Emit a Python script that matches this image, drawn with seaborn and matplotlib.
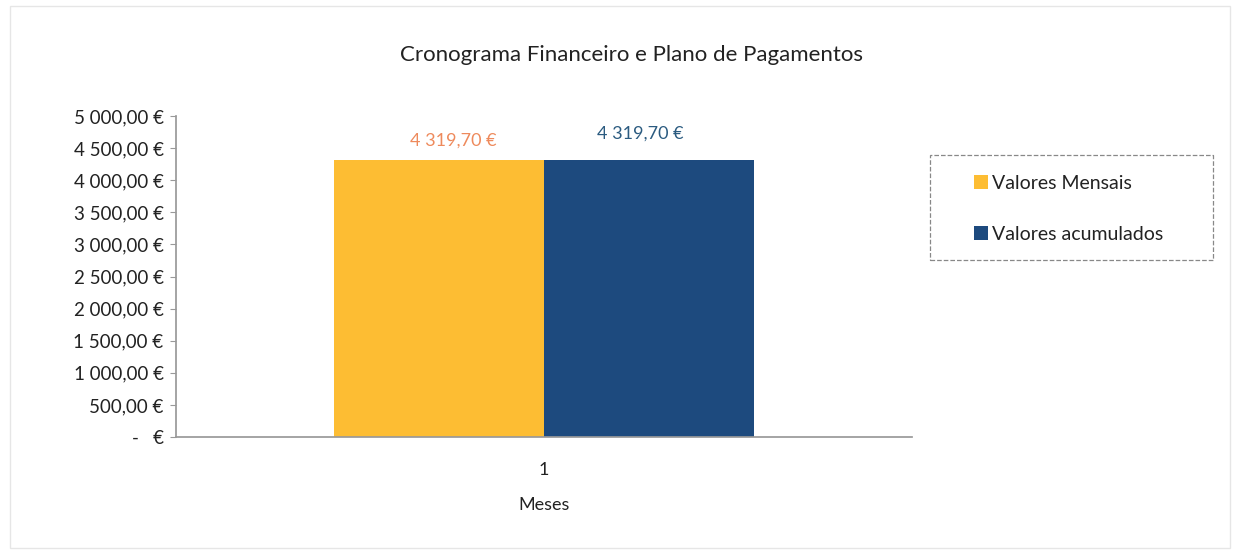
import matplotlib
matplotlib.use("Agg")
import matplotlib.pyplot as plt
import seaborn as sns
import pandas as pd
from matplotlib.ticker import FuncFormatter, MultipleLocator
from matplotlib.patches import Rectangle

meses = ["1"]
series = ["Valores Mensais", "Valores acumulados"]
valores = [4319.70, 4319.70]
cores = ["#FDBD33", "#1D4A7E"]
cores_rotulo = ["#EE8A5C", "#2B5B80"]

df = pd.DataFrame({"Meses": meses * 2, "Serie": series, "Valor": valores})

sns.set_theme(style="white")
plt.rcParams["font.family"] = ["Lato", "DejaVu Sans"]

W, H = 1239, 551
fig = plt.figure(figsize=(W / 100, H / 100), dpi=100)
ax = fig.add_axes([176 / W, 1 - 437 / H, (912 - 176) / W, (437 - 116) / H])

sns.barplot(data=df, x="Meses", y="Valor", hue="Serie", palette=cores,
            width=0.57, ax=ax, saturation=1, edgecolor="none")


def euro(v, pos=None):
    if abs(v) < 1e-9:
        return "-   €"
    s = f"{v:,.2f}".replace(",", " ").replace(".", ",")
    return s + " €"


ax.set_ylim(0, 5000)
ax.yaxis.set_major_locator(MultipleLocator(500))
ax.yaxis.set_major_formatter(FuncFormatter(euro))
ax.tick_params(axis="y", labelsize=13.5, colors="#999999", length=4, width=0.8,
               left=True, pad=5)
for t in ax.get_yticklabels():
    t.set_color("#222222")
ax.tick_params(axis="x", labelsize=13, length=0, pad=18, labelcolor="#222222")

for sp in ["top", "right"]:
    ax.spines[sp].set_visible(False)
ax.spines["left"].set_color("#999999")
ax.spines["bottom"].set_color("#999999")

# rotulos de dados (deslocados como no original)
for cont, cor, dx, dy in zip(ax.containers, cores_rotulo, [10, -6], [8, 13]):
    for barra, v in zip(cont, cont.datavalues):
        ax.annotate(euro(v), (barra.get_x() + barra.get_width() / 2, v),
                    xytext=(dx, dy), textcoords="offset points", ha="center",
                    va="bottom", color=cor, fontsize=13)

ax.set_xlabel("Meses", fontsize=13, labelpad=14, color="#222222")
ax.set_ylabel("")
fig.text(632 / W, 1 - 55 / H, "Cronograma Financeiro e Plano de Pagamentos",
         fontsize=16, color="#222222", ha="center", va="center")

# legenda com moldura tracejada
leg = ax.legend(loc="upper left", bbox_to_anchor=(974 / W, 1 - 175 / H),
                bbox_transform=fig.transFigure, fontsize=14,
                frameon=False, handlelength=0.7, handleheight=0.7,
                handletextpad=0.2, labelspacing=1.75, borderpad=0,
                borderaxespad=0)
for t in leg.get_texts():
    t.set_color("#222222")
fig.patches.append(Rectangle((930 / W, 1 - 260 / H), 283 / W, 105 / H,
                             transform=fig.transFigure, fill=False,
                             edgecolor="#888888", linewidth=0.9, linestyle="--"))

fig.patches.append(Rectangle((0.008, 0.005), 0.985, 0.985, transform=fig.transFigure,
                             fill=False, edgecolor="#e6e6e6", linewidth=1))

fig.savefig("out.png", dpi=100)
